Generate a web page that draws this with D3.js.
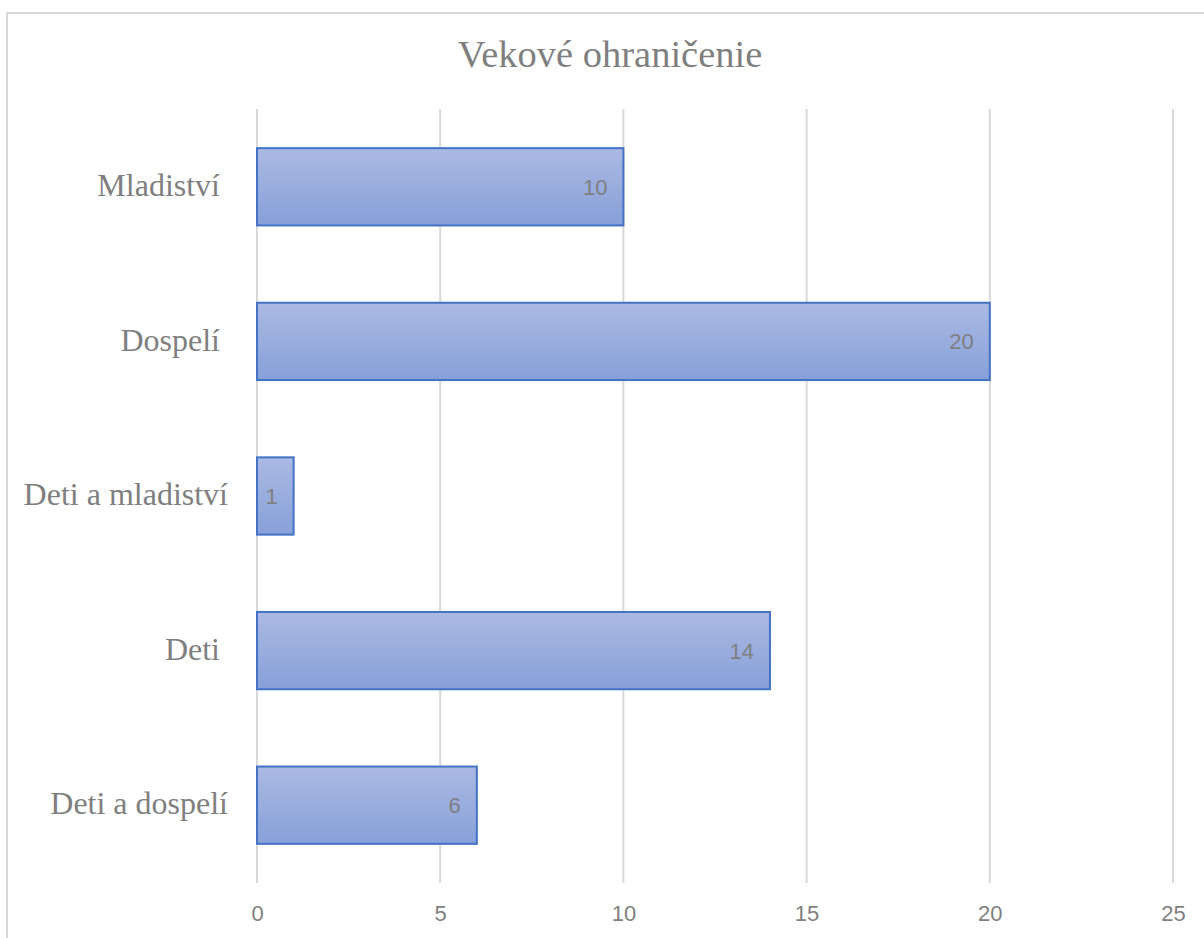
<!DOCTYPE html>
<html><head><meta charset="utf-8">
<script src="https://cdn.jsdelivr.net/npm/d3@7"></script>
<style>body{margin:0;background:#fff}svg{display:block}</style>
</head><body>
<script>
const categories = ["Mladiství ", "Dospelí ", "Deti a mladiství", "Deti ", "Deti a dospelí"];
const values = [10, 20, 1, 14, 6];
const xTicks = [0, 5, 10, 15, 20, 25];
const title = "Vekové ohraničenie";

const W = 1204, H = 938;
const svg = d3.select("body").append("svg").attr("width", W).attr("height", H);

const defs = svg.append("defs");
const g = defs.append("linearGradient").attr("id", "barGrad").attr("x1", 0).attr("y1", 0).attr("x2", 0).attr("y2", 1);
g.append("stop").attr("offset", "0%").attr("stop-color", "#abb9e3");
g.append("stop").attr("offset", "100%").attr("stop-color", "#87a0d8");

// outer chart border (extends beyond the viewport on right/bottom)
svg.append("rect").attr("x", 7).attr("y", 13).attr("width", 1220).attr("height", 960)
  .attr("fill", "none").attr("stroke", "#d9d9d9").attr("stroke-width", 2);

const x = d3.scaleLinear().domain([0, 25]).range([257, 1173]);
const y = d3.scaleBand().domain(categories).range([109.5, 882.5]).paddingInner(0.5).paddingOuter(0.25);

// gridlines
svg.append("g").selectAll("line").data(xTicks).join("line")
  .attr("x1", d => x(d)).attr("x2", d => x(d)).attr("y1", 109).attr("y2", 883)
  .attr("stroke", "#d9d9d9").attr("stroke-width", 2);

// x axis labels
const xAxis = d3.axisBottom(x).tickValues(xTicks).tickSize(0).tickPadding(0);
const xa = svg.append("g").attr("transform", "translate(0,905)").call(xAxis);
xa.select(".domain").remove();
xa.selectAll("text").attr("fill", "#7f7f7f").attr("font-family", "Liberation Sans, Arial, sans-serif")
  .attr("font-size", 22).attr("dy", "0.71em");

// y axis labels
const yAxis = d3.axisLeft(y).tickSize(0).tickPadding(0);
const ya = svg.append("g").attr("transform", "translate(228,0)").call(yAxis);
ya.select(".domain").remove();
ya.selectAll("text").attr("fill", "#7f7f7f").attr("font-family", "Liberation Serif, Times New Roman, serif")
  .attr("font-size", 32).attr("dy", "0.29em").style("white-space", "pre");

// bars
const data = categories.map((c, i) => ({c, v: values[i]}));
svg.append("g").selectAll("rect").data(data).join("rect")
  .attr("x", x(0)).attr("y", d => y(d.c)).attr("width", d => x(d.v) - x(0)).attr("height", y.bandwidth())
  .attr("fill", "url(#barGrad)").attr("stroke", "#4472c4").attr("stroke-width", 2);

// value labels
svg.append("g").selectAll("text").data(data).join("text")
  .attr("x", d => x(d.v) - 16).attr("y", d => y(d.c) + y.bandwidth() / 2)
  .attr("dy", "0.36em").attr("text-anchor", "end")
  .attr("fill", "#7f7f7f").attr("font-family", "Liberation Sans, Arial, sans-serif").attr("font-size", 22)
  .text(d => d.v);

// title
svg.append("text").attr("x", 610).attr("y", 67).attr("text-anchor", "middle")
  .attr("fill", "#7f7f7f").attr("font-family", "Liberation Serif, Times New Roman, serif").attr("font-size", 38.5)
  .text(title);
</script>
</body></html>
